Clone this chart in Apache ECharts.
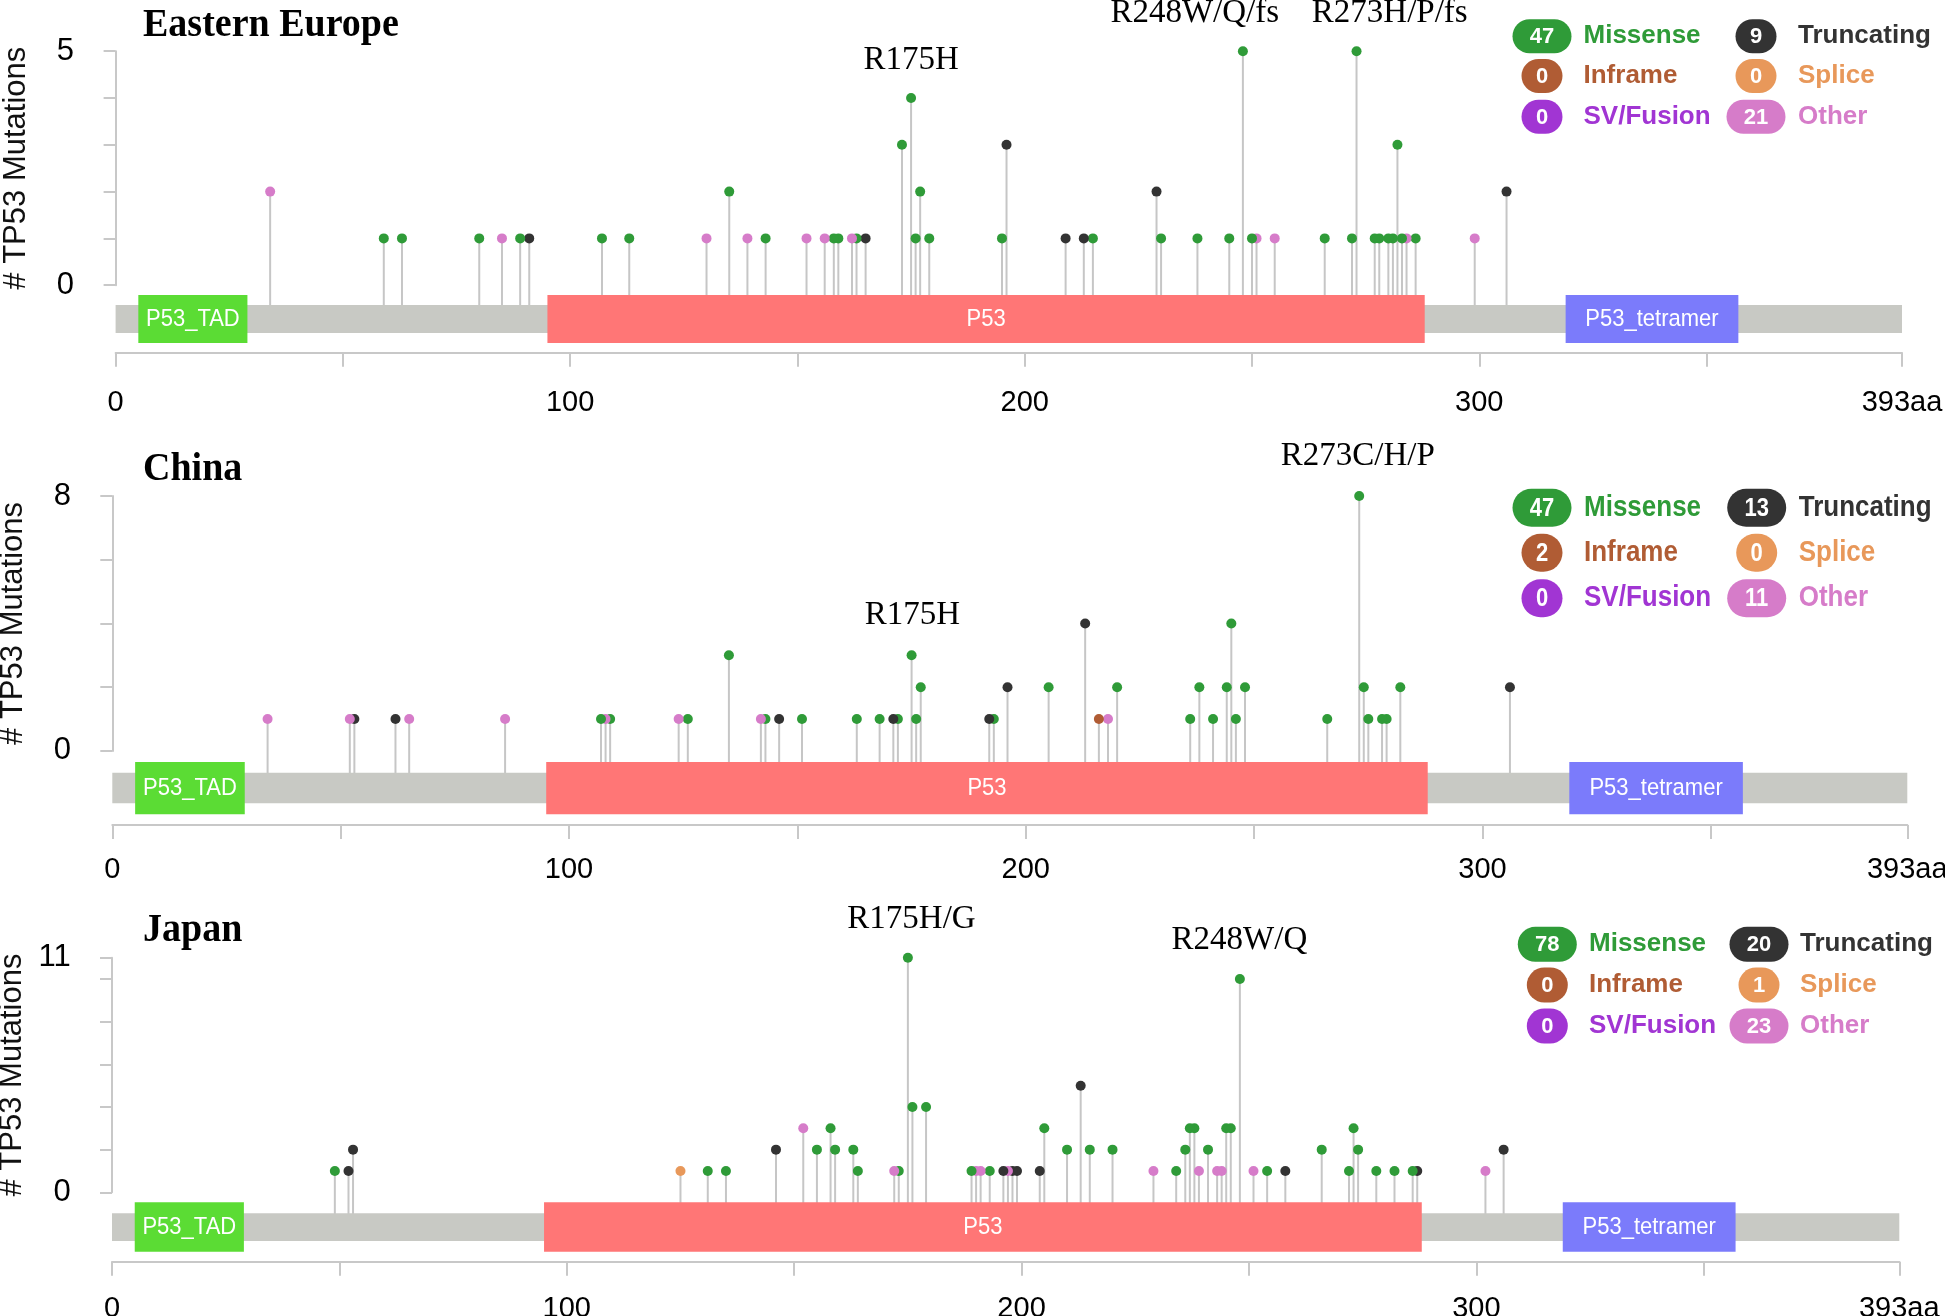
<!DOCTYPE html>
<html><head><meta charset="utf-8">
<script src="https://cdn.jsdelivr.net/npm/echarts@6/dist/echarts.min.js"></script>
<style>html,body{margin:0;padding:0;background:#fff}#c{width:1945px;height:1316px}</style>
</head><body><div id="c"></div>
<script>
// ---------------- DATA ----------------
const proteinLength = 393;
const domainNames = ['P53_TAD', 'P53', 'P53_tetramer'];
const domainStart = [5, 95, 319];
const domainEnd = [29, 288, 357];
const xTickLabels = ['0', '100', '200', '300', '393aa'];
const panelTitles = ['Eastern Europe', 'China', 'Japan'];
const yMaxValues = [5, 8, 11];
const legendLabels = ['Missense', 'Truncating', 'Inframe', 'Splice', 'SV/Fusion', 'Other'];
const eeLegend = [47, 9, 0, 0, 0, 21];
const cnLegend = [47, 13, 2, 0, 0, 11];
const jpLegend = [78, 20, 0, 1, 0, 23];
// [position (aa), mutation count, type]  M=missense T=truncating I=inframe S=splice O=other
const eeMutations = [[34,2,'O'],[59,1,'M'],[63,1,'M'],[80,1,'M'],[85,1,'O'],[89,1,'M'],[91,1,'T'],[107,1,'M'],[113,1,'M'],[130,1,'O'],[135,2,'M'],[139,1,'O'],[143,1,'M'],[152,1,'O'],[156,1,'O'],[158,1,'M'],[159,1,'M'],[162,1,'O'],[163,1,'M'],[165,1,'T'],[173,3,'M'],[175,4,'M'],[176,1,'M'],[177,2,'M'],[179,1,'M'],[195,1,'M'],[196,3,'T'],[209,1,'T'],[213,1,'T'],[215,1,'M'],[229,2,'T'],[230,1,'M'],[238,1,'M'],[245,1,'M'],[248,5,'M'],[250,1,'M'],[251,1,'O'],[255,1,'O'],[266,1,'M'],[272,1,'M'],[273,5,'M'],[277,1,'M'],[278,1,'M'],[280,1,'M'],[281,1,'M'],[282,3,'M'],[283,1,'M'],[284,1,'O'],[286,1,'M'],[299,1,'O'],[306,2,'T']];
const cnMutations = [[34,1,'O'],[52,1,'O'],[53,1,'T'],[62,1,'T'],[65,1,'O'],[86,1,'O'],[107,1,'M'],[108,1,'O'],[109,1,'M'],[124,1,'O'],[126,1,'M'],[135,3,'M'],[142,1,'O'],[143,1,'M'],[146,1,'T'],[151,1,'M'],[163,1,'M'],[168,1,'M'],[171,1,'T'],[172,1,'M'],[175,3,'M'],[176,1,'M'],[177,2,'M'],[192,1,'T'],[193,1,'M'],[196,2,'T'],[205,2,'M'],[213,4,'T'],[216,1,'I'],[218,1,'O'],[220,2,'M'],[236,1,'M'],[238,2,'M'],[241,1,'M'],[244,2,'M'],[245,4,'M'],[246,1,'M'],[248,2,'M'],[266,1,'M'],[273,8,'M'],[274,2,'M'],[275,1,'M'],[278,1,'M'],[279,1,'M'],[282,2,'M'],[306,2,'T']];
const jpMutations = [[49,1,'M'],[52,1,'T'],[53,2,'T'],[125,1,'S'],[131,1,'M'],[135,1,'M'],[146,2,'T'],[152,3,'O'],[155,2,'M'],[158,3,'M'],[159,2,'M'],[163,2,'M'],[164,1,'M'],[172,1,'O'],[173,1,'M'],[175,11,'M'],[176,4,'M'],[179,4,'M'],[189,1,'M'],[190,1,'O'],[191,1,'O'],[193,1,'M'],[196,1,'T'],[197,1,'O'],[198,1,'T'],[199,1,'T'],[204,1,'T'],[205,3,'M'],[210,2,'M'],[213,5,'T'],[215,2,'M'],[220,2,'M'],[229,1,'O'],[234,1,'M'],[236,2,'M'],[237,3,'M'],[238,3,'M'],[239,1,'O'],[241,2,'M'],[243,1,'O'],[244,1,'O'],[245,3,'M'],[246,3,'M'],[248,10,'M'],[251,1,'O'],[254,1,'M'],[258,1,'T'],[266,2,'M'],[272,1,'M'],[273,3,'M'],[274,2,'M'],[278,1,'M'],[282,1,'M'],[286,1,'M'],[287,1,'T'],[302,1,'O'],[306,2,'T']];
// hotspot annotations: [text, label centre (aa), count level]
const eeAnnotations = [['R175H',175,4],['R248W/Q/fs',237.4,5],['R273H/P/fs',280.3,5]];
const cnAnnotations = [['R175H',175.2,3],['R273C/H/P',272.7,8]];
const jpAnnotations = [['R175H/G',175.8,11],['R248W/Q',247.9,10]];

// ---------------- STYLE / LAYOUT ----------------
const typeColors = {M:'#2f9b38', T:'#333333', I:'#b05c34', S:'#e8985a', F:'#a135d3', O:'#d67cc9'};
const legendColors = ['#2f9b38', '#333333', '#b05c34', '#e8985a', '#a135d3', '#d67cc9'];
const domainColors = ['#5bdc34', '#ff7676', '#7b7bfb'];
const backboneColor = '#c8c9c4';
const axisGray = '#c8c8c8';
const SANS = '"Liberation Sans", Arial, Helvetica, sans-serif';
const SERIF = '"Liberation Serif", "Times New Roman", serif';

const layout = [
  {left:115.6, right:43, zeroY:285.2, top:51.2, yAxisX:96, yInterval:1, xOff:67.5, xLabelMargin:36, bb:[19.8,47.8], dom:[9.8,57.8], titleY:25.5, legRows:[36.3,76,116.7], legScale:1, pillH:34, pillX:[1542,1756], textX:[1583.5,1798], annoGap:37.5},
  {left:112.3, right:37.7, zeroY:750.9, top:496, yAxisX:93, yInterval:2, xOff:74, xLabelMargin:31, bb:[21.8,52.4], dom:[11,63.4], titleY:469, legRows:[507.7,552.7,598.3], legScale:1.13, pillH:38, pillX:[1542,1756.7], textX:[1584,1798.7], annoGap:40},
  {left:112, right:45.7, zeroY:1192.3, top:957.7, yAxisX:92.7, yInterval:2, xOff:69.4, xLabelMargin:33, bb:[21,48.7], dom:[10,59.4], titleY:930.5, legRows:[944.3,985,1026], legScale:1, pillH:35, pillX:[1547.3,1759], textX:[1589,1800], annoGap:38.5}
];
const mutationSets = [eeMutations, cnMutations, jpMutations];
const annotationSets = [eeAnnotations, cnAnnotations, jpAnnotations];
const legendSets = [eeLegend, cnLegend, jpLegend];

const chart = echarts.init(document.getElementById('c'), null, {renderer:'canvas'});
const grids = [], xAxes = [], yAxes = [], series = [], graphics = [];

layout.forEach((L, i) => {
  const yMax = yMaxValues[i];
  grids.push({left:L.left, right:L.right, top:L.top, bottom:1316 - L.zeroY, containLabel:false, outerBoundsMode:'none'});
  xAxes.push({
    gridIndex:i, type:'value', min:0, max:proteinLength, interval:50, position:'bottom', offset:L.xOff,
    axisLine:{show:true, onZero:false, lineStyle:{color:axisGray, width:2}},
    axisTick:{show:true, length:14, lineStyle:{color:axisGray, width:2}},
    axisLabel:{show:true, margin:L.xLabelMargin, fontSize:29, fontFamily:SANS, color:'#000', showMaxLabel:true, showMinLabel:true,
      formatter: v => v === proteinLength ? xTickLabels[4] : (v % 100 === 0 ? xTickLabels[v/100] : '')},
    splitLine:{show:false}
  });
  yAxes.push({
    gridIndex:i, type:'value', min:0, max:yMax, interval:L.yInterval, offset:L.left - L.yAxisX,
    axisLine:{show:true, lineStyle:{color:axisGray, width:2}},
    axisTick:{show:true, length:12, lineStyle:{color:axisGray, width:2}},
    axisLabel:{show:true, margin:22, fontSize:31, fontFamily:SANS, color:'#000', showMaxLabel:true,
      formatter: v => (v === 0 || v === yMax) ? String(v) : ''},
    splitLine:{show:false},
    name:'# TP53 Mutations', nameLocation:'middle', nameRotate:90, nameGap:64,
    nameTextStyle:{fontSize:31, fontFamily:SANS, color:'#111'}
  });

  const muts = mutationSets[i];
  // stems
  series.push({
    type:'custom', xAxisIndex:i, yAxisIndex:i, z:2, silent:true,
    data: muts.map(m => [m[0], m[1]]),
    renderItem: (params, api) => {
      const top = api.coord([api.value(0), api.value(1)]);
      const base = api.coord([api.value(0), 0]);
      return {type:'line', shape:{x1:top[0], y1:top[1], x2:base[0], y2:base[1] + L.bb[0] + 6},
        style:{stroke:'#c6c6c6', lineWidth:2}};
    }
  });
  // backbone + domains
  const domData = [[0, proteinLength, 0, -1]].concat(domainNames.map((n, k) => [domainStart[k], domainEnd[k], 0, k]));
  series.push({
    type:'custom', xAxisIndex:i, yAxisIndex:i, z:3, silent:true,
    data: domData,
    renderItem: (params, api) => {
      const k = api.value(3);
      const p0 = api.coord([api.value(0), 0]);
      const p1 = api.coord([api.value(1), 0]);
      if (k < 0) {
        return {type:'rect', shape:{x:p0[0], y:p0[1] + L.bb[0], width:p1[0] - p0[0], height:L.bb[1] - L.bb[0]},
          style:{fill:backboneColor}};
      }
      const y0 = p0[1] + L.dom[0], h = L.dom[1] - L.dom[0];
      return {type:'group', children:[
        {type:'rect', shape:{x:p0[0], y:y0, width:p1[0] - p0[0], height:h}, style:{fill:domainColors[k]}},
        {type:'text', x:(p0[0] + p1[0]) / 2, y:y0 + h / 2, scaleY:1.12,
          style:{text:domainNames[k], x:0, y:0, align:'center', verticalAlign:'middle', fill:'#fff', font:'22px ' + SANS}}
      ]};
    }
  });
  // heads (lower positions drawn on top)
  series.push({
    type:'scatter', xAxisIndex:i, yAxisIndex:i, z:4, silent:true, symbol:'circle', symbolSize:10,
    data: muts.slice().reverse().map(m => ({value:[m[0], m[1]], itemStyle:{color:typeColors[m[2]], opacity:1}})),
    itemStyle:{opacity:1}
  });
  // annotations
  series.push({
    type:'custom', xAxisIndex:i, yAxisIndex:i, z:5, silent:true,
    data: annotationSets[i].map(a => [a[1], a[2]]),
    renderItem: (params, api) => {
      const p = api.coord([api.value(0), api.value(1)]);
      return {type:'text', style:{text:annotationSets[i][params.dataIndex][0], x:p[0], y:p[1] - L.annoGap,
        align:'center', verticalAlign:'middle', fill:'#000', font:'33px ' + SERIF}};
    }
  });

  // title
  graphics.push({type:'text', x:143, y:L.titleY, scaleY:1.08, style:{text:panelTitles[i], x:0, y:0, textAlign:'left', textVerticalAlign:'middle',
    fill:'#000', font:'bold 38px ' + SERIF}});
  // legend
  legendLabels.forEach((lab, j) => {
    const row = Math.floor(j / 2), col = j % 2;
    const cy = L.legRows[row], cx = L.pillX[col];
    const val = legendSets[i][j];
    const w = String(val).length > 1 ? 59 : 41;
    graphics.push({type:'rect', x:0, y:0, shape:{x:cx - w / 2, y:cy - L.pillH / 2, width:w, height:L.pillH, r:L.pillH / 2},
      style:{fill:legendColors[j]}});
    graphics.push({type:'text', x:cx, y:cy + 1, scaleY:L.legScale, style:{text:String(val), x:0, y:0, textAlign:'center', textVerticalAlign:'middle',
      fill:'#fff', font:'bold 22px ' + SANS}});
    graphics.push({type:'text', x:L.textX[col], y:cy, scaleY:L.legScale, style:{text:lab, x:0, y:0, textAlign:'left', textVerticalAlign:'middle',
      fill:legendColors[j], font:'bold 26px ' + SANS}});
  });
});

chart.setOption({
  backgroundColor:'#ffffff',
  animation:false,
  grid:grids, xAxis:xAxes, yAxis:yAxes, series:series,
  graphic:{elements:graphics}
});
</script></body></html>
